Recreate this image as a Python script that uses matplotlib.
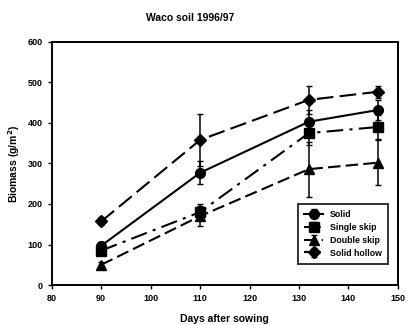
import matplotlib
matplotlib.use("Agg")
import matplotlib.pyplot as plt

days = [90, 110, 132, 146]

solid = [97, 277, 403, 432]
single_skip = [85, 180, 375, 390]
double_skip = [50, 170, 286, 302]
solid_hollow = [157, 358, 457, 477]

solid_err = [10, 28, 30, 25]
single_skip_err = [10, 20, 30, 30]
double_skip_err = [8, 25, 68, 55]
solid_hollow_err = [10, 65, 35, 15]

x_ticks = [80, 90, 100, 110, 120, 130, 140, 150]
y_ticks = [0, 100, 200, 300, 400, 500, 600]

plt.rcParams['font.family'] = ['Liberation Sans', 'DejaVu Sans']
plt.rcParams['font.weight'] = 'bold'

fig = plt.figure(figsize=(4.08, 3.25), dpi=100)
ax = fig.add_axes([0.127, 0.123, 0.848, 0.748])

series = [
    ("Solid", solid, solid_err, 'o', '-', 7),
    ("Single skip", single_skip, single_skip_err, 's', (0, (8, 3, 1.5, 3)), 6.5),
    ("Double skip", double_skip, double_skip_err, '^', (0, (6, 2.5)), 7),
    ("Solid hollow", solid_hollow, solid_hollow_err, 'D', (0, (8, 3)), 6.5),
]

for name, vals, errs, mk, ls, ms in series:
    ax.errorbar(days, vals, yerr=errs, color='black', marker=mk, markersize=ms,
                linestyle=ls, linewidth=1.5, elinewidth=1.1, capsize=2,
                label=name)

ax.set_xlim(80, 150)
ax.set_ylim(0, 600)
ax.set_xticks(x_ticks)
ax.set_yticks(y_ticks)
ax.tick_params(axis='both', labelsize=6.5, direction='out', length=3, width=1)
for s in ax.spines.values():
    s.set_linewidth(1.4)

ax.set_xlabel("Days after sowing", fontsize=7.5, fontweight='bold', labelpad=8)
ax.set_ylabel("Biomass (g/m$^2$)", fontsize=7.5, fontweight='bold')
fig.text(0.465, 0.945, "Waco soil 1996/97", ha='center', va='center',
         fontsize=7.5, fontweight='bold')

leg = ax.legend(loc='lower right', fontsize=6.3, frameon=True, fancybox=False,
                edgecolor='black', handlelength=2.2, borderpad=0.7,
                labelspacing=0.45, bbox_to_anchor=(0.985, 0.07))
leg.get_frame().set_linewidth(1.4)

fig.savefig("out.png", dpi=100)
